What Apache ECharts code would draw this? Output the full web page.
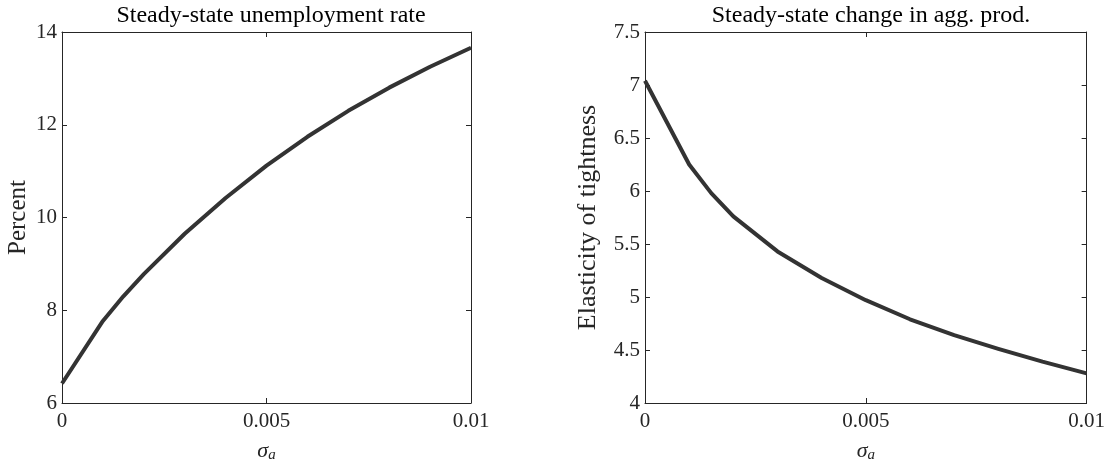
<!DOCTYPE html>
<html>
<head>
<meta charset="utf-8">
<script src="https://cdn.jsdelivr.net/npm/echarts@6/dist/echarts.min.js"></script>
<style>html,body{margin:0;padding:0;background:#fff}#c{width:1108px;height:468px}</style>
</head>
<body>
<div id="c"></div>
<script>
const sigma = [0, 0.001, 0.0015, 0.002, 0.003, 0.004, 0.005, 0.006, 0.007, 0.008, 0.009, 0.01];
const unemployment = [6.42, 7.77, 8.30, 8.78, 9.65, 10.42, 11.12, 11.74, 12.30, 12.80, 13.25, 13.66];
const elasticity = [7.04, 6.25, 5.98, 5.76, 5.43, 5.18, 4.97, 4.79, 4.64, 4.51, 4.39, 4.28];
const xTicks = [0, 0.005, 0.01];
const titles = ['Steady-state unemployment rate', 'Steady-state change in agg. prod.'];
const yNames = ['Percent', 'Elasticity of tightness'];
const yRanges = [[6, 14, 2], [4, 7.5, 0.5]];

const FONT = 'Liberation Serif';
const axisCol = '#262626';
const grids = [
  {left: 62, right: 637, top: 32, bottom: 60},
  {left: 645, right: 21, top: 32, bottom: 60}
];
function pairs(ys){ return sigma.map((s,i)=>[s, ys[i]]); }
const xAxes = [], yAxes = [];
grids.forEach((g, gi) => {
  const base = {
    type: 'value', gridIndex: gi, min: 0, max: 0.01, interval: 0.005,
    splitLine: {show: false},
    axisLine: {onZero: false, lineStyle: {color: axisCol, width: 1}},
    axisTick: {inside: true, length: 5, lineStyle: {color: axisCol}}
  };
  xAxes.push(Object.assign({}, base, {
    position: 'bottom',
    name: '{s|σ}{a|a}', nameLocation: 'middle', nameGap: 36,
    nameTextStyle: {rich: {
      s: {fontFamily: FONT, fontStyle: 'italic', fontSize: 22, color: '#262626'},
      a: {fontFamily: FONT, fontStyle: 'italic', fontSize: 15, color: '#262626', verticalAlign: 'bottom', padding: [9,0,0,0]}
    }},
    axisLabel: {fontFamily: FONT, fontSize: 21, color: '#262626', margin: 8,
      formatter: v => { const t = xTicks.find(x => Math.abs(x - v) < 1e-9); return t === undefined ? '' : String(t); }}
  }));
  xAxes.push(Object.assign({}, base, {position: 'top', axisLabel: {show: false}}));
  const r = yRanges[gi];
  const ybase = {
    type: 'value', gridIndex: gi, min: r[0], max: r[1], interval: r[2],
    splitLine: {show: false},
    axisLine: {onZero: false, lineStyle: {color: axisCol, width: 1}},
    axisTick: {inside: true, length: 5, lineStyle: {color: axisCol}}
  };
  yAxes.push(Object.assign({}, ybase, {
    position: 'left',
    name: yNames[gi], nameLocation: 'middle', nameGap: gi === 0 ? 31 : 44,
    nameTextStyle: {fontFamily: FONT, fontSize: gi === 0 ? 25 : 26, color: '#262626'},
    axisLabel: {fontFamily: FONT, fontSize: 21, color: '#262626', margin: 5}
  }));
  yAxes.push(Object.assign({}, ybase, {position: 'right', axisLabel: {show: false}}));
});

const chart = echarts.init(document.getElementById('c'), null, {renderer: 'canvas'});
chart.setOption({
  animation: false,
  backgroundColor: '#ffffff',
  title: titles.map((t, i) => ({
    text: t, left: i === 0 ? 266 : 866, top: -1, textAlign: 'center',
    textStyle: {fontFamily: FONT, fontSize: 24, fontWeight: 'normal', color: '#000'}
  })),
  grid: grids,
  xAxis: xAxes,
  yAxis: yAxes,
  series: [
    {type: 'line', xAxisIndex: 0, yAxisIndex: 0, data: pairs(unemployment), showSymbol: false,
     lineStyle: {color: '#333333', width: 4, join: 'round'}},
    {type: 'line', xAxisIndex: 2, yAxisIndex: 2, data: pairs(elasticity), showSymbol: false,
     lineStyle: {color: '#333333', width: 4, join: 'round'}}
  ]
});
</script>
</body>
</html>
